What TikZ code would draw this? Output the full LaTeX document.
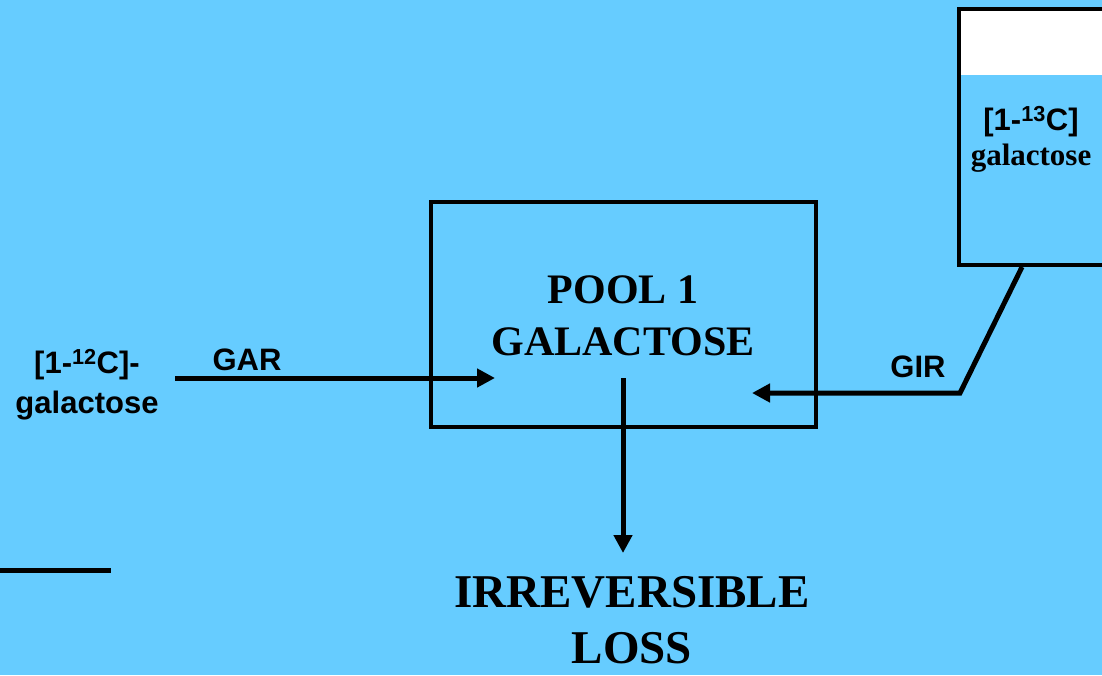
\documentclass[tikz,border=0pt]{standalone}
\usepackage{fontspec}
\setmainfont{Liberation Serif}
\setsansfont{Liberation Sans}
\usetikzlibrary{arrows.meta,positioning}
\definecolor{skyback}{HTML}{66CCFF}
\begin{document}
\begin{tikzpicture}[x=1pt,y=-1pt,
  box/.style={draw,line width=4pt,inner sep=0pt},
  bigtext/.style={font=\fontsize{47}{56}\selectfont\bfseries,align=center},
  pooltext/.style={font=\fontsize{42}{52}\selectfont\bfseries,align=center},
  sanslab/.style={font=\fontsize{31}{40}\selectfont\sffamily\bfseries,align=center},
  seriflab/.style={font=\fontsize{31}{36}\selectfont\bfseries,align=center},
  arr/.style={-{Triangle[length=18pt,width=18pt]},line width=5pt}]
\fill[skyback] (0,0) rectangle (1102,675);
\useasboundingbox (0,0) rectangle (1102,675);
\node[box,minimum width=385pt,minimum height=225pt] (pool) at (623.5,314.5) {};
\node[pooltext] (poolname) at (623,316) {POOL 1\\GALACTOSE};
\node[box,minimum width=160pt,minimum height=256pt,
  path picture={\fill[white] (path picture bounding box.north west) rectangle ([yshift=-66pt]path picture bounding box.north east);}] (src) at (1039,137) {};
\node[sanslab] (srclab) at (1031,122) {[1-\textsuperscript{13}C]};
\node[seriflab] (srcname) at (1031,158) {galactose};
\node[sanslab] (glab) at (87,385) {[1-\textsuperscript{12}C]-\\galactose};
\node[sanslab] (gar) at (247,360) {GAR};
\node[sanslab] (gir) at (918,367) {GIR};
\node[bigtext] (loss) at (632,620) {IRREVERSIBLE\\LOSS};
\coordinate (gar0) at (175,378);
\coordinate (gar1) at (495,378);
\coordinate (bend) at (960,393);
\coordinate (girend) at (752,393);
\coordinate (out0) at (623,378);
\coordinate (out1) at (623,553);
\draw[arr] (gar0)--(gar1);
\draw[arr] ([xshift=-17pt]src.south)--(bend)--(girend);
\draw[arr] (out0)--(out1);
\draw[line width=5pt] (0,570)--(111,570);
\end{tikzpicture}
\end{document}
